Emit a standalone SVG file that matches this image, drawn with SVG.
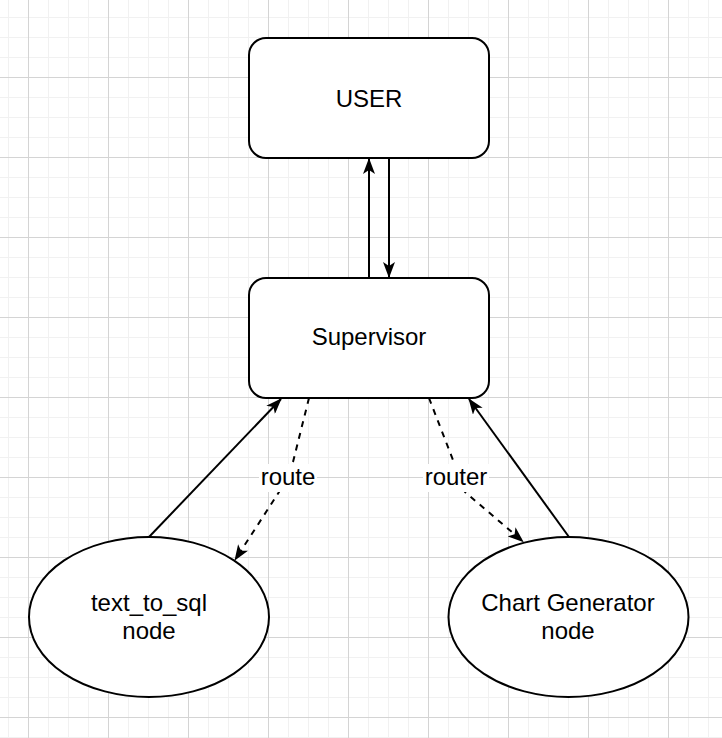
<svg xmlns="http://www.w3.org/2000/svg" width="722" height="738" viewBox="0 0 722 738">
<style>
.box{fill:#fff;stroke:#000;stroke-width:2}
.lbl{font-family:"Liberation Sans",Arial,Helvetica,sans-serif;font-size:24px;fill:#000;text-anchor:middle}
.edge{fill:none;stroke:#000;stroke-width:2}
.dash{stroke-dasharray:6 6}
</style>
<defs>
<pattern id="grid" patternUnits="userSpaceOnUse" x="28" y="77" width="80" height="80">
<rect x="0" y="0" width="80" height="80" fill="#fff"/>
<rect x="20" y="0" width="1" height="80" fill="#f1f1f1"/>
<rect x="40" y="0" width="1" height="80" fill="#f1f1f1"/>
<rect x="60" y="0" width="1" height="80" fill="#f1f1f1"/>
<rect x="0" y="20" width="80" height="1" fill="#f1f1f1"/>
<rect x="0" y="40" width="80" height="1" fill="#f1f1f1"/>
<rect x="0" y="60" width="80" height="1" fill="#f1f1f1"/>
<rect x="0" y="0" width="1" height="80" fill="#d4d4d4"/>
<rect x="0" y="0" width="80" height="1" fill="#d4d4d4"/>
</pattern>
<marker id="arr" markerUnits="userSpaceOnUse" viewBox="0 0 16 12" markerWidth="16" markerHeight="12" refX="15" refY="6" orient="auto">
<path d="M0,0 L16,6 L0,12 L4,6 Z" fill="#000"/>
</marker>
</defs>
<rect x="0" y="0" width="722" height="738" fill="url(#grid)"/>

<g id="connectors">
<line id="e-sup-user" class="edge" x1="369" y1="278" x2="369" y2="159" marker-end="url(#arr)"/>
<line id="e-user-sup" class="edge" x1="389" y1="158" x2="389" y2="277" marker-end="url(#arr)"/>
<line id="e-sql-sup" class="edge" x1="149" y1="537" x2="281" y2="399" marker-end="url(#arr)"/>
<line id="e-chart-sup" class="edge" x1="569" y1="537" x2="469" y2="399" marker-end="url(#arr)"/>
<path id="e-sup-sql" class="edge dash" d="M309,398 L293,462 L279,492 L235,560" marker-end="url(#arr)"/>
<path id="e-sup-chart" class="edge dash" d="M429,398 L453,460 L465,492 L523,541.5" marker-end="url(#arr)"/>
<g id="edge-labels">
<rect x="259" y="464" width="58" height="28" fill="#fff"/>
<text class="lbl" x="288" y="485">route</text>
<rect x="423" y="464" width="66" height="28" fill="#fff"/>
<text class="lbl" x="456" y="485">router</text>
</g>
</g>

<g id="user">
<rect class="box" x="249" y="38" width="240" height="120" rx="17" ry="17"/>
<text class="lbl" x="369" y="106.5">USER</text>
</g>
<g id="supervisor">
<rect class="box" x="249" y="278" width="240" height="120" rx="17" ry="17"/>
<text class="lbl" x="369" y="345">Supervisor</text>
</g>
<g id="text_to_sql">
<ellipse class="box" cx="149" cy="617" rx="120" ry="80"/>
<text class="lbl" x="149" y="611">text_to_sql</text>
<text class="lbl" x="149" y="639">node</text>
</g>
<g id="chart_generator">
<ellipse class="box" cx="568.5" cy="617" rx="120" ry="80"/>
<text class="lbl" x="568" y="611">Chart Generator</text>
<text class="lbl" x="568" y="639">node</text>
</g>
</svg>
